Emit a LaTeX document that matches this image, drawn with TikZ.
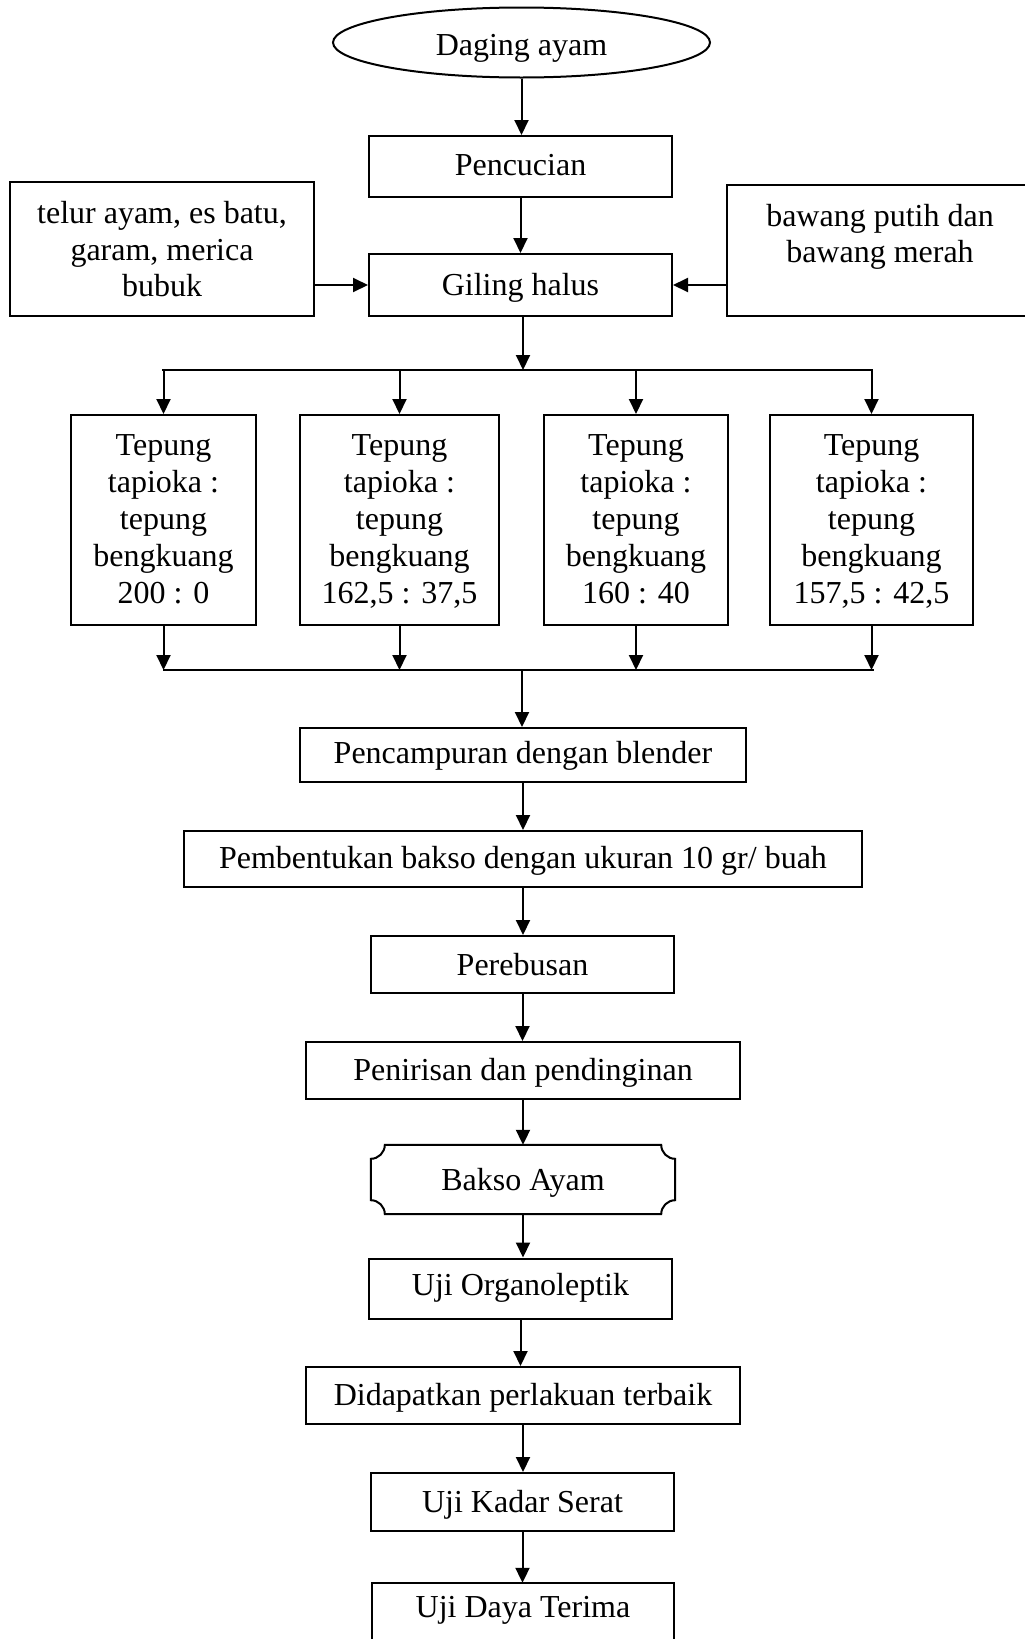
\documentclass[tikz,border=0pt]{standalone}
\usepackage{fontspec}
\setmainfont{Liberation Serif}
\usetikzlibrary{arrows.meta,shapes.geometric}
\begin{document}
\begin{tikzpicture}[x=1pt,y=-1pt,
  every node/.style={font=\fontsize{32}{36.8}\selectfont, inner sep=0pt, align=center, text depth=0pt},
  pbox/.style args={#1/#2}{draw, line width=2pt, minimum width=#1pt, minimum height=#2pt},
  plain/.style args={#1/#2}{minimum width=#1pt, minimum height=#2pt},
  ln/.style={line width=2pt},
  arr/.style={line width=2pt, -{Triangle[length=15pt,width=14pt]}},
]
\useasboundingbox (0,0) rectangle (1025,1639);
\clip (0,0) rectangle (1025,1639);

% top part
\node[ellipse, draw, line width=2pt, minimum width=377pt, minimum height=70pt, text height=25pt] (ell) at (521.5,42.5) {Daging ayam};
\node[pbox=303/61, text height=17pt] (penc) at (520.5,166.5) {Pencucian};
\node[pbox=303/62, text height=20pt] (gil) at (520.5,285) {Giling halus};
\node[pbox=304/134] (lbox) at (162,249) {telur ayam, es batu,\\garam, merica\\bubuk};
\node[pbox=313/131] (rbox) at (883.5,250.5) {};
\node[anchor=south] (rtxt) at (880,263) {bawang putih dan\\bawang merah};

\draw[arr] (ell.south) -- (ell.south |- penc.north);
\draw[arr] (penc.south) -- (gil.north);
\draw[arr] (gil.west -| lbox.east) -- (gil.west);
\draw[arr] (gil.east -| rbox.west) -- (gil.east);

% branches
\node[pbox=185/210, text height=166pt] (b1) at (163.5,520) {Tepung\\tapioka :\\tepung\\bengkuang\\200 : 0};
\node[pbox=199/210, text height=166pt] (b2) at (399.5,520) {Tepung\\tapioka :\\tepung\\bengkuang\\162,5 : 37,5};
\node[pbox=184/210, text height=166pt] (b3) at (636,520) {Tepung\\tapioka :\\tepung\\bengkuang\\160 : 40};
\node[pbox=203/210, text height=166pt] (b4) at (871.5,520) {Tepung\\tapioka :\\tepung\\bengkuang\\157,5 : 42,5};

\coordinate (t1) at (162,370);
\coordinate (t4) at (873,370);
\coordinate (tm) at (523,370);
\draw[ln] (t1) -- (t4);
\draw[arr] (gil.south -| tm) -- (tm);
\foreach \b in {b1,b2,b3,b4} {
  \draw[arr] (\b.north |- t1) -- (\b.north);
}

\coordinate (u1) at (163,670);
\coordinate (u4) at (874,670);
\coordinate (um) at (522,670);
\draw[ln] (u1) -- (u4);
\foreach \b in {b1,b2,b3,b4} {
  \draw[arr] (\b.south) -- (\b.south |- u1);
}

% lower chain
\node[pbox=446/54, text height=17pt] (pcm) at (523,755) {Pencampuran dengan blender};
\node[pbox=678/56, text height=19pt] (pmb) at (523,859) {Pembentukan bakso dengan ukuran 10 gr/ buah};
\node[pbox=303/57, text height=22pt] (prb) at (522.5,964.5) {Perebusan};
\node[pbox=434/57, text height=19pt] (pnr) at (523,1070.5) {Penirisan dan pendinginan};
\node[plain=304/69, text height=21pt] (bak) at (523,1179.5) {Bakso Ayam};
\node[pbox=303/60, text height=13pt] (uji) at (520.5,1288.5) {Uji Organoleptik};
\node[pbox=434/57, text height=19pt] (did) at (523,1395.5) {Didapatkan perlakuan terbaik};
\node[pbox=303/58, text height=21pt] (kad) at (522.5,1502) {Uji Kadar Serat};
\node[plain=302/58, text height=10pt] (dtr) at (523,1612) {Uji Daya Terima};

% Bakso Ayam shape with concave corners
\draw[ln] ([xshift=14pt]bak.north west) -- ([xshift=-14pt]bak.north east)
  .. controls ([xshift=-14pt,yshift=-7.7pt]bak.north east) and ([xshift=-7.7pt,yshift=-14pt]bak.north east) .. ([yshift=-14pt]bak.north east)
  -- ([yshift=14pt]bak.south east)
  .. controls ([xshift=-7.7pt,yshift=14pt]bak.south east) and ([xshift=-14pt,yshift=7.7pt]bak.south east) .. ([xshift=-14pt]bak.south east)
  -- ([xshift=14pt]bak.south west)
  .. controls ([xshift=14pt,yshift=7.7pt]bak.south west) and ([xshift=7.7pt,yshift=14pt]bak.south west) .. ([yshift=14pt]bak.south west)
  -- ([yshift=-14pt]bak.north west)
  .. controls ([xshift=7.7pt,yshift=-14pt]bak.north west) and ([xshift=14pt,yshift=-7.7pt]bak.north west) .. cycle;

% open-bottom last box
\draw[ln] ([yshift=-40pt]dtr.south west) -- (dtr.north west) -- (dtr.north east) -- ([yshift=-40pt]dtr.south east);

\draw[arr] (um) -- (pcm.north -| um);
\draw[arr] (pcm.south) -- (pmb.north);
\draw[arr] (pmb.south) -- (pmb.south |- prb.north);
\draw[arr] (prb.south) -- (prb.south |- pnr.north);
\draw[arr] (pnr.south) -- (pnr.south |- bak.north);
\draw[arr] (bak.south) -- (bak.south |- uji.north);
\draw[arr] (uji.south) -- (uji.south |- did.north);
\draw[arr] (did.south) -- (did.south |- kad.north);
\draw[arr] (kad.south) -- (kad.south |- dtr.north);
\end{tikzpicture}
\end{document}
